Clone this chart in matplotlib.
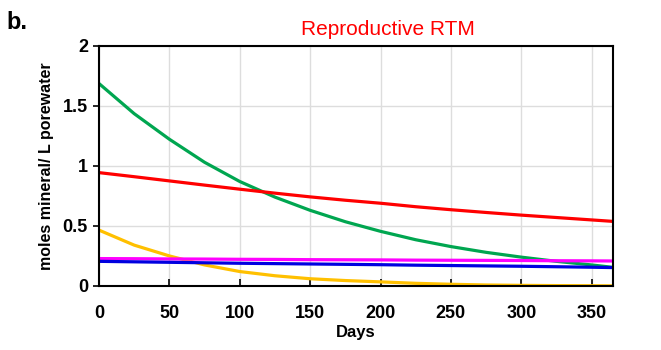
import numpy as np
import matplotlib.pyplot as plt

# Values (days vs moles mineral / L porewater)
days = [0, 25, 50, 75, 100, 125, 150, 175, 200, 225, 250, 275, 300, 325, 350, 365]
green = [1.686, 1.435, 1.222, 1.03, 0.87, 0.74, 0.63, 0.535, 0.455, 0.385, 0.328, 0.28, 0.24, 0.205, 0.175, 0.155]
red = [0.944, 0.91, 0.875, 0.84, 0.806, 0.773, 0.742, 0.714, 0.689, 0.66, 0.635, 0.612, 0.59, 0.57, 0.55, 0.538]
yellow = [0.465, 0.34, 0.25, 0.175, 0.12, 0.085, 0.06, 0.045, 0.034, 0.022, 0.014, 0.008, 0.005, 0.003, 0.002, 0.001]
magenta = [0.228, 0.227, 0.225, 0.224, 0.222, 0.221, 0.219, 0.218, 0.217, 0.215, 0.214, 0.213, 0.212, 0.21, 0.209, 0.208]
blue = [0.205, 0.201, 0.197, 0.193, 0.189, 0.186, 0.183, 0.18, 0.177, 0.173, 0.17, 0.167, 0.164, 0.16, 0.156, 0.153]

xticks = [0, 50, 100, 150, 200, 250, 300, 350]
yticks = [0, 0.5, 1, 1.5, 2]
ytick_labels = ['0', '0.5', '1', '1.5', '2']

plt.rcParams['font.family'] = ['Liberation Sans Narrow', 'Liberation Sans', 'DejaVu Sans']
plt.rcParams['font.weight'] = 'bold'

fig = plt.figure(figsize=(6.61, 3.5), dpi=100)
ax = fig.add_axes([0.1498, 0.183, 0.7772, 0.686])

ax.plot(days, green, color='#00a650', lw=2.3)
ax.plot(days, red, color='#ff0000', lw=2.3)
ax.plot(days, yellow, color='#ffc000', lw=2.3)
ax.plot(days, magenta, color='#ff00ff', lw=2.3)
ax.plot(days, blue, color='#0000e0', lw=2.3)

ax.set_xlim(0, 365)
ax.set_ylim(0, 2)
ax.set_xticks(xticks)
ax.set_yticks(yticks)
ax.set_yticklabels(ytick_labels)
ax.grid(True, color='#dddddd', lw=1)
ax.set_axisbelow(True)
ax.tick_params(axis='x', direction='in', length=5, width=1.2, labelsize=13, pad=14)
ax.tick_params(axis='y', direction='out', length=4, width=1.2, labelsize=13, pad=4)
for s in ax.spines.values():
    s.set_linewidth(1.5)

ax.set_xlabel('Days', fontsize=12, fontweight='bold', labelpad=2)
ax.set_ylabel('moles mineral/ L porewater', fontsize=11.5, fontweight='bold', labelpad=6)

fig.text(0.587, 0.915, 'Reproductive RTM', color='#ff0000', fontsize=15,
         fontweight='normal', ha='center', va='center')
fig.text(0.01, 0.935, 'b.', fontsize=17, fontweight='bold', ha='left', va='center')

fig.savefig('out.png', dpi=100)
